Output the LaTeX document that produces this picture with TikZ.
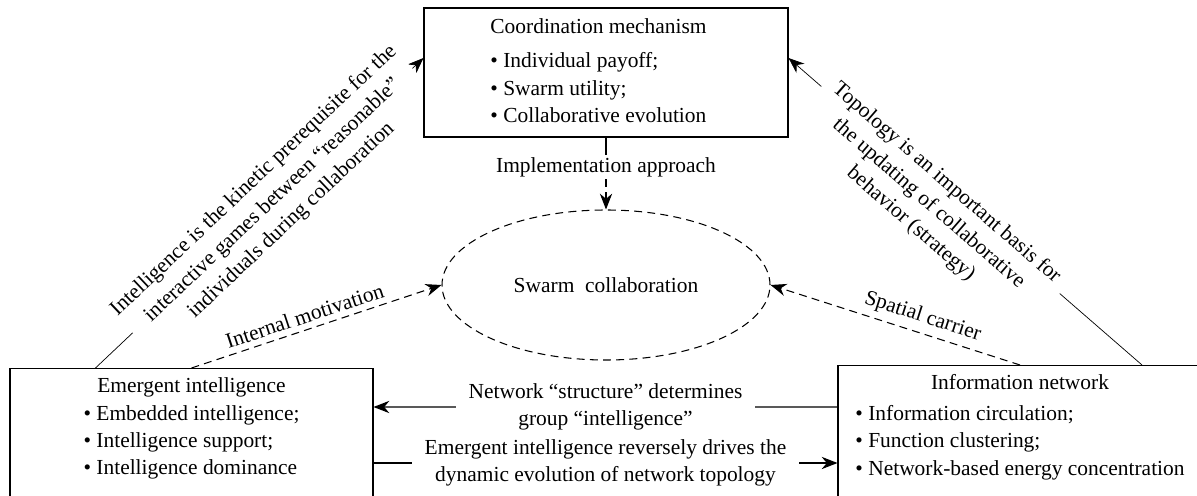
\documentclass[tikz,border=0pt]{standalone}
\usepackage{fontspec}
\setmainfont{Liberation Serif}
\usetikzlibrary{positioning,shapes.geometric,arrows.meta,backgrounds}

\begin{document}
\begin{tikzpicture}[
    font=\fontsize{12.2}{15.5}\selectfont,
    line width=0.6pt,
    >={Stealth[length=9pt,width=7pt]},
    blockbox/.style={draw, rectangle, inner sep=3pt},
    dashline/.style={dash pattern=on 4.5pt off 3pt},
    lbl/.style={fill=white, inner xsep=7pt, inner ysep=0pt, align=center}
  ]
  \useasboundingbox (0,0) rectangle (23.94,9.9);
  % Coordination box at top
  \node[blockbox, minimum width=7.28cm, minimum height=2.58cm] (coord) at (12.12,8.45)
    {\begin{tabular}{@{}l@{}}
      \multicolumn{1}{@{}c@{}}{Coordination mechanism}\\[4pt]
      \textbullet\ Individual payoff;\\
      \textbullet\ Swarm utility;\\
      \textbullet\ Collaborative evolution
    \end{tabular}\hspace*{0.3cm}};
  % Swarm collaboration ellipse
  \node[draw, ellipse, dashline, minimum width=6.56cm, minimum height=3cm,
        inner sep=0pt] (swarm) at (12.12,4.2) {Swarm~ collaboration};
  % Implementation approach label
  \node[inner sep=1pt] (impl) at (12.12,6.56) {Implementation approach};
  % Emergent intelligence box (bottom left)
  \node[blockbox, anchor=north, minimum width=7.26cm] (emerg) at (3.83,2.54)
    {\begin{tabular}{@{}l@{}}
      \multicolumn{1}{@{}c@{}}{Emergent intelligence}\\
      \textbullet\ Embedded intelligence;\\
      \textbullet\ Intelligence support;\\
      \textbullet\ Intelligence dominance\\[14pt]
    \end{tabular}};
  % Information network box (bottom right)
  \node[blockbox, anchor=north, minimum width=7.28cm] (info) at (20.4,2.6)
    {\begin{tabular}{@{}l@{}}
      \multicolumn{1}{@{}c@{}}{Information network}\\[2pt]
      \textbullet\ Information circulation;\\
      \textbullet\ Function clustering;\\
      \textbullet\ Network-based energy concentration\\[14pt]
    \end{tabular}};
  % Coordination to swarm
  \draw (impl.north) -- (impl.north |- coord.south);
  \draw[->, dashline] (impl.south) -- (impl.south |- swarm.north);
  % Diagonal links to the coordination box
  \begin{scope}[on background layer]
    \draw[->] ([xshift=1.72cm]emerg.north west) --
      node[lbl, sloped, pos=0.54, inner xsep=0pt]
      {Intelligence is the kinetic prerequisite for the\\interactive games between “reasonable”\\individuals during collaboration}
      ([yshift=0.29cm]coord.west);
    \draw[<-] ([yshift=0.29cm]coord.east) --
      node[lbl, sloped, pos=0.43, below=-11pt, inner xsep=6pt]
      {Topology is an important basis for\\the updating of collaborative\\behavior (strategy)}
      ([xshift=2.44cm]info.north);
  \end{scope}
  % Dashed links to the swarm
  \draw[->, dashline] (emerg.north) -- node[sloped, above, pos=0.47] {Internal motivation} (swarm.west);
  \draw[->, dashline] (info.north) -- node[sloped, above, pos=0.41] {Spatial carrier} (swarm.east);
  % Links between the two bottom boxes
  \draw[->] ([yshift=-0.84cm]info.north west) --
    node[lbl] {Network “structure” determines\\group “intelligence”}
    ([yshift=-0.78cm]emerg.north east);
  \draw[->] ([yshift=-1.9cm]emerg.north east) --
    node[lbl] {Emergent intelligence reversely drives the\\dynamic evolution of network topology}
    ([yshift=-1.96cm]info.north west);
\end{tikzpicture}
\end{document}
